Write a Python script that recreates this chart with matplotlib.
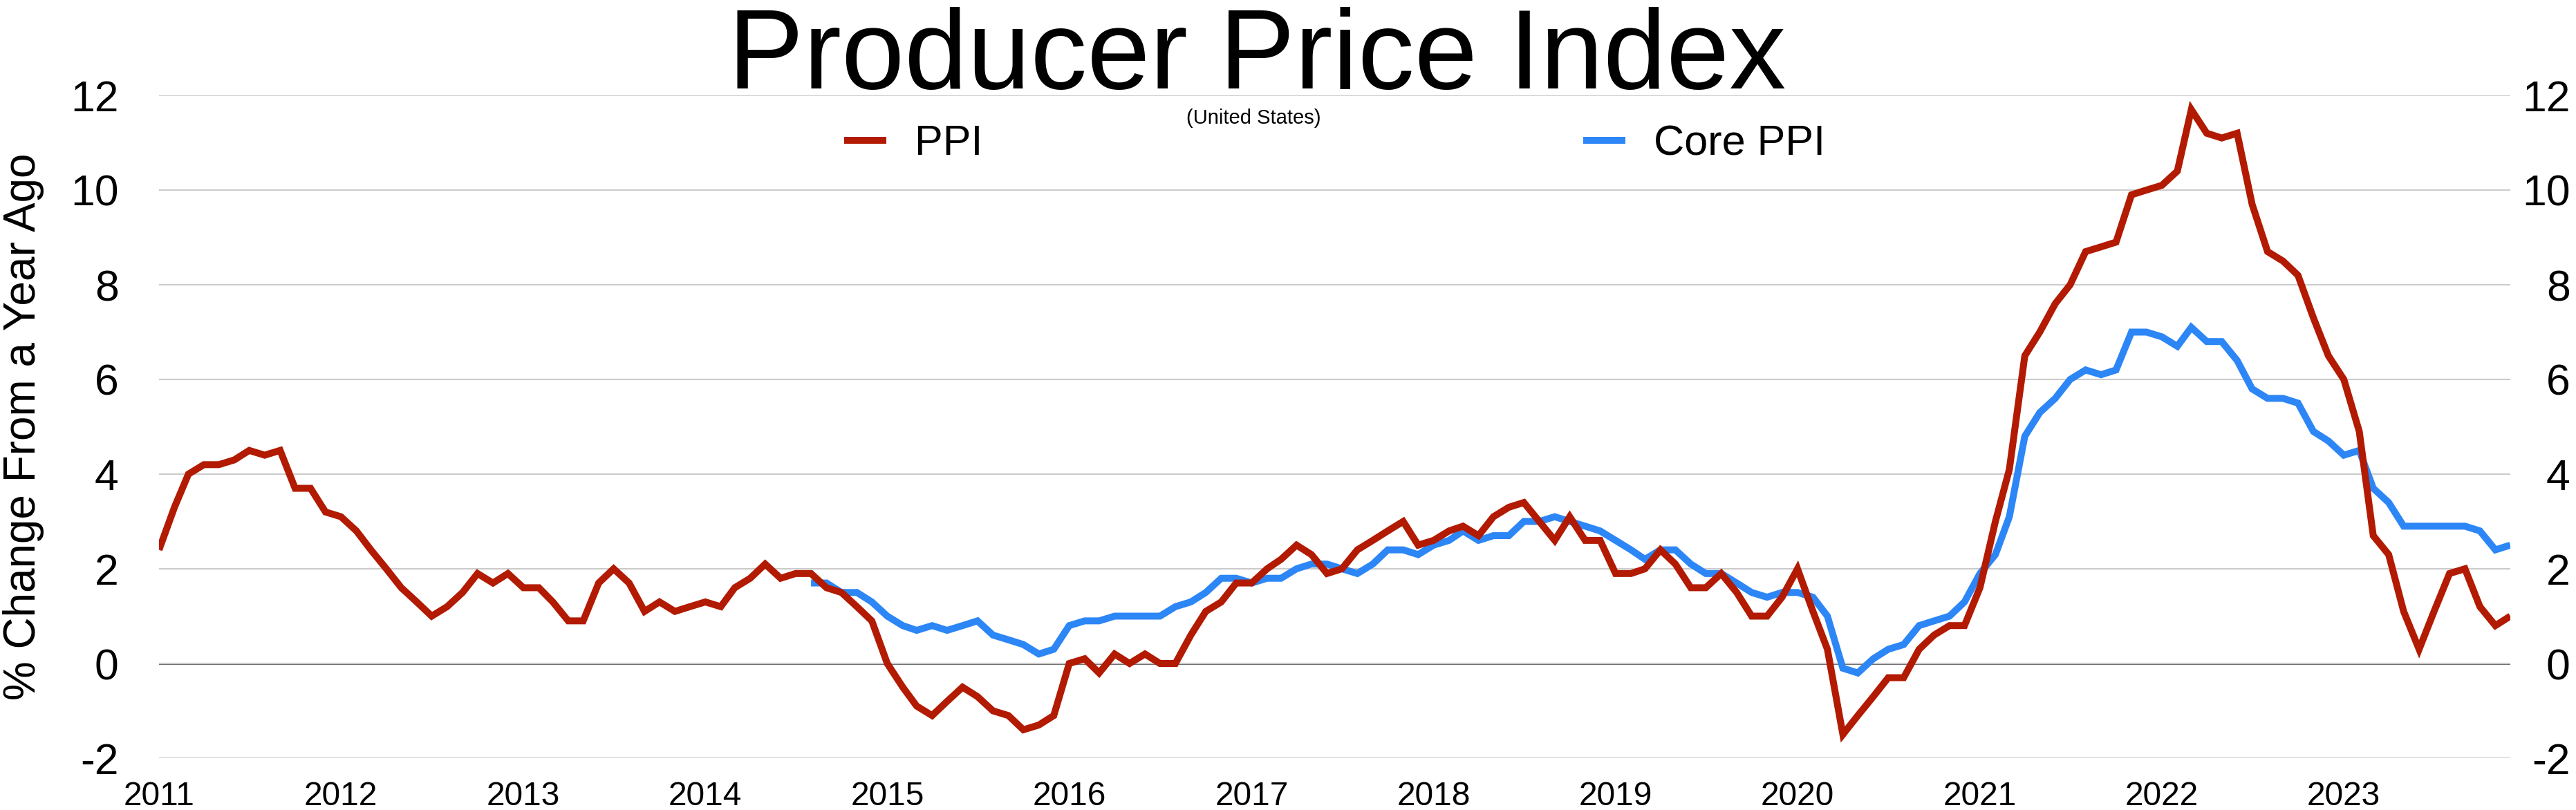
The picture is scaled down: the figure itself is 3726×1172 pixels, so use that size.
import matplotlib

matplotlib.use("Agg")
import matplotlib.pyplot as plt
import pandas as pd

# monthly year-over-year % change, Jan 2011 .. Dec 2023
months = pd.date_range("2011-01-01", "2023-12-01", freq="MS")

ppi = [
    2.4, 3.3, 4.0, 4.2, 4.2, 4.3, 4.5, 4.4, 4.5, 3.7, 3.7, 3.2,          # 2011
    3.1, 2.8, 2.4, 2.0, 1.6, 1.3, 1.0, 1.2, 1.5, 1.9, 1.7, 1.9,          # 2012
    1.6, 1.6, 1.3, 0.9, 0.9, 1.7, 2.0, 1.7, 1.1, 1.3, 1.1, 1.2,          # 2013
    1.3, 1.2, 1.6, 1.8, 2.1, 1.8, 1.9, 1.9, 1.6, 1.5, 1.2, 0.9,          # 2014
    0.0, -0.5, -0.9, -1.1, -0.8, -0.5, -0.7, -1.0, -1.1, -1.4, -1.3, -1.1,  # 2015
    0.0, 0.1, -0.2, 0.2, 0.0, 0.2, 0.0, 0.0, 0.6, 1.1, 1.3, 1.7,         # 2016
    1.7, 2.0, 2.2, 2.5, 2.3, 1.9, 2.0, 2.4, 2.6, 2.8, 3.0, 2.5,          # 2017
    2.6, 2.8, 2.9, 2.7, 3.1, 3.3, 3.4, 3.0, 2.6, 3.1, 2.6, 2.6,          # 2018
    1.9, 1.9, 2.0, 2.4, 2.1, 1.6, 1.6, 1.9, 1.5, 1.0, 1.0, 1.4,          # 2019
    2.0, 1.1, 0.3, -1.5, -1.1, -0.7, -0.3, -0.3, 0.3, 0.6, 0.8, 0.8,     # 2020
    1.6, 3.0, 4.1, 6.5, 7.0, 7.6, 8.0, 8.7, 8.8, 8.9, 9.9, 10.0,         # 2021
    10.1, 10.4, 11.7, 11.2, 11.1, 11.2, 9.7, 8.7, 8.5, 8.2, 7.3, 6.5,    # 2022
    6.0, 4.9, 2.7, 2.3, 1.1, 0.3, 1.1, 1.9, 2.0, 1.2, 0.8, 1.0,          # 2023
]

# core series starts Aug 2014
core_start = "2014-08-01"
core_ppi = [
    1.7, 1.7, 1.5, 1.5, 1.3,                                             # 2014
    1.0, 0.8, 0.7, 0.8, 0.7, 0.8, 0.9, 0.6, 0.5, 0.4, 0.2, 0.3,          # 2015
    0.8, 0.9, 0.9, 1.0, 1.0, 1.0, 1.0, 1.2, 1.3, 1.5, 1.8, 1.8,          # 2016
    1.7, 1.8, 1.8, 2.0, 2.1, 2.1, 2.0, 1.9, 2.1, 2.4, 2.4, 2.3,          # 2017
    2.5, 2.6, 2.8, 2.6, 2.7, 2.7, 3.0, 3.0, 3.1, 3.0, 2.9, 2.8,          # 2018
    2.6, 2.4, 2.2, 2.4, 2.4, 2.1, 1.9, 1.9, 1.7, 1.5, 1.4, 1.5,          # 2019
    1.5, 1.4, 1.0, -0.1, -0.2, 0.1, 0.3, 0.4, 0.8, 0.9, 1.0, 1.3,        # 2020
    1.9, 2.3, 3.1, 4.8, 5.3, 5.6, 6.0, 6.2, 6.1, 6.2, 7.0, 7.0,          # 2021
    6.9, 6.7, 7.1, 6.8, 6.8, 6.4, 5.8, 5.6, 5.6, 5.5, 4.9, 4.7,          # 2022
    4.4, 4.5, 3.7, 3.4, 2.9, 2.9, 2.9, 2.9, 2.9, 2.8, 2.4, 2.5,          # 2023
]
core_months = pd.date_range(core_start, periods=len(core_ppi), freq="MS")

y_ticks = [-2, 0, 2, 4, 6, 8, 10, 12]
years = list(range(2011, 2024))

RED = "#B21A02"
BLUE = "#2C86F6"

plt.rcParams["font.family"] = ["Liberation Sans", "DejaVu Sans"]

W, H = 3726, 1172
fig = plt.figure(figsize=(W / 100, H / 100), dpi=100)
left, right, top, bottom = 230, 3631, 138, 1097
ax = fig.add_axes([left / W, 1 - bottom / H, (right - left) / W, (bottom - top) / H])

ax.set_ylim(-2, 12)
ax.set_xlim(months[0], months[-1])
for spine in ax.spines.values():
    spine.set_visible(False)

ax.grid(axis="y", color="#CBCBCB", linewidth=1.5)
ax.axhline(0, color="#6E6E6E", linewidth=2.2, zorder=1.5)

line_core, = ax.plot(core_months, core_ppi, color=BLUE, linewidth=7.2,
                     solid_joinstyle="miter", solid_capstyle="butt", label="Core PPI", zorder=3)
line_ppi, = ax.plot(months, ppi, color=RED, linewidth=7.2,
                    solid_joinstyle="miter", solid_capstyle="butt", label="PPI", zorder=4)

ax.set_xticks([pd.Timestamp(f"{y}-01-01") for y in years], labels=[str(y) for y in years])
ax.tick_params(axis="x", length=0, pad=23.5, labelsize=34.5)
ax.set_yticks(y_ticks, labels=[str(v) for v in y_ticks])
ax.tick_params(axis="y", length=0, pad=42, labelsize=45)

ax2 = ax.twinx()
ax2.set_ylim(-2, 12)
for spine in ax2.spines.values():
    spine.set_visible(False)
ax2.tick_params(axis="y", length=0, pad=62.5, labelsize=45)
ax2.set_yticks(y_ticks, labels=[str(v) for v in y_ticks], ha="right")

ax.set_ylabel("% Change From a Year Ago", fontsize=46, va="center")
ax.yaxis.set_label_coords(-0.0576, 0.5)

ax.legend(handles=[line_ppi, line_core], loc="center", bbox_to_anchor=(0.5, 0.926),
          ncol=2, frameon=False, fontsize=44, handlelength=1.0, handletextpad=0.67,
          columnspacing=14.2, borderpad=0)

fig.text(1818 / W, 1 - 128 / H, "Producer Price Index", fontsize=118,
         ha="center", va="baseline")
fig.text(1813 / W, 1 - 179 / H, "(United States)", fontsize=21,
         ha="center", va="baseline")

fig.savefig("out.png", dpi=100)
plt.close(fig)
